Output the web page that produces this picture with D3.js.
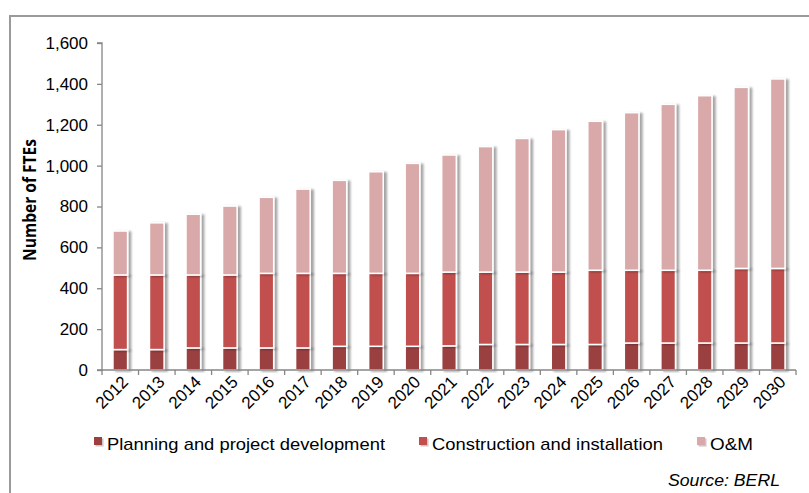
<!DOCTYPE html>
<html>
<head>
<meta charset="utf-8">
<script src="https://cdn.jsdelivr.net/npm/d3@7"></script>
<style>
  body { margin: 0; background: #fff; }
  svg { display: block; }
  text { font-family: "Liberation Sans", Arial, sans-serif; fill: #000; }
</style>
</head>
<body>
<div id="chart"></div>
<script>
var years = ["2012","2013","2014","2015","2016","2017","2018","2019","2020","2021",
             "2022","2023","2024","2025","2026","2027","2028","2029","2030"];
var planning     = [100,100,108,108,108,108,116,116,116,118,125,125,125,125,132,132,132,132,132];
var construction = [365,365,357,357,365,365,357,357,357,361,354,354,354,363,356,356,356,365,365];
var om           = [215,255,297,337,372,412,455,497,538,573,614,654,697,729,771,812,854,886,927];
var yTicks = [0,200,400,600,800,1000,1200,1400,1600];
var seriesNames = ["Planning and project development","Construction and installation","O&M"];
var colors = ["#9b3f3f","#c0504d","#d9a9aa"];

var W = 809, H = 493;
var plotLeft = 102, plotRight = 796, plotTop = 43, plotBottom = 370;

var svg = d3.select("#chart").append("svg")
  .attr("width", W).attr("height", H);

// outer frame
svg.append("path")
  .attr("d", "M10," + H + "V16H" + W)
  .attr("fill", "none").attr("stroke", "#9a9a9a").attr("stroke-width", 2);

var defs = svg.append("defs");
var f = defs.append("filter").attr("id", "shadow")
  .attr("x", "-50%").attr("y", "-10%").attr("width", "200%").attr("height", "120%");
f.append("feDropShadow").attr("dx", 3).attr("dy", 1).attr("stdDeviation", 1.2)
  .attr("flood-color", "#000").attr("flood-opacity", 0.35);

var x = d3.scaleBand().domain(years).range([plotLeft, plotRight])
  .paddingInner(0.6).paddingOuter(0.3);
var y = d3.scaleLinear().domain([0, 1600]).range([plotBottom, plotTop]);

var table = years.map(function(d, i) {
  return { year: d, planning: planning[i], construction: construction[i], om: om[i] };
});
var stack = d3.stack().keys(["planning","construction","om"])(table);

// bars
var g = svg.append("g");
stack.forEach(function(s, k) {
  g.selectAll(".s" + k)
    .data(s)
    .enter()
    .append("rect")
    .attr("class", "s" + k)
    .attr("x", function(d) { return x(d.data.year); })
    .attr("width", x.bandwidth())
    .attr("y", function(d) { return y(d[1]); })
    .attr("height", function(d) { return y(d[0]) - y(d[1]); })
    .attr("fill", colors[k])
    .attr("stroke", "#fff")
    .attr("stroke-width", 1.5)
    .attr("filter", "url(#shadow)");
});

// y axis
var yAxis = svg.append("g")
  .attr("transform", "translate(" + plotLeft + ",0)")
  .call(d3.axisLeft(y).tickValues(yTicks).tickSize(5).tickPadding(9)
    .tickFormat(d3.format(",")));
yAxis.selectAll("path, line").attr("stroke", "#868686").attr("stroke-width", 1.3);
yAxis.select(".domain").attr("d", "M-5," + plotTop + "H0V" + plotBottom + "H-5");
yAxis.selectAll("text").style("font-size", "17px")
  .style("font-family", "'Liberation Sans', Arial, sans-serif");

// x axis
var xAxis = svg.append("g")
  .attr("transform", "translate(0," + plotBottom + ")")
  .call(d3.axisBottom(x).tickSize(0).tickPadding(0));
xAxis.select(".domain").remove();
xAxis.selectAll("text")
  .style("font-size", "17px")
  .style("font-family", "'Liberation Sans', Arial, sans-serif")
  .style("text-anchor", "end")
  .attr("dy", "0")
  .attr("transform", "translate(9,13) rotate(-45)");

svg.append("line")
  .attr("x1", plotLeft).attr("x2", plotRight).attr("y1", plotBottom).attr("y2", plotBottom)
  .attr("stroke", "#868686").attr("stroke-width", 1.3);
var bounds = d3.range(years.length + 1).map(function(i) {
  return plotLeft + i * (plotRight - plotLeft) / years.length;
});
svg.selectAll(".xt").data(bounds).enter().append("line")
  .attr("x1", function(d) { return d; }).attr("x2", function(d) { return d; })
  .attr("y1", plotBottom).attr("y2", plotBottom + 5)
  .attr("stroke", "#868686").attr("stroke-width", 1.3);

// y label
svg.append("text")
  .attr("transform", "translate(36,200) rotate(-90)")
  .attr("text-anchor", "middle")
  .style("font-family", "'Open Sans', sans-serif")
  .style("font-weight", "bold")
  .style("font-size", "17.5px")
  .attr("textLength", 122)
  .attr("lengthAdjust", "spacingAndGlyphs")
  .text("Number of FTEs");

// legend
var legX = [94, 419, 697];
var legW = [278, 231, 43];
var leg = svg.selectAll(".leg").data(seriesNames).enter().append("g")
  .attr("transform", function(d, i) { return "translate(" + legX[i] + ",437)"; });
leg.append("rect").attr("x", 1.5).attr("y", 1.5).attr("width", 8).attr("height", 8)
  .attr("fill", "#c8c8c8");
leg.append("rect").attr("width", 8).attr("height", 8)
  .attr("fill", function(d, i) { return colors[i]; });
leg.append("text")
  .attr("x", 13).attr("y", 13)
  .style("font-size", "17px")
  .attr("textLength", function(d, i) { return legW[i]; })
  .attr("lengthAdjust", "spacingAndGlyphs")
  .text(function(d) { return d; });

// source
svg.append("text")
  .attr("x", 780).attr("y", 486)
  .attr("text-anchor", "end")
  .style("font-size", "17px")
  .style("font-style", "italic")
  .attr("textLength", 112)
  .attr("lengthAdjust", "spacingAndGlyphs")
  .text("Source: BERL");
</script>
</body>
</html>
